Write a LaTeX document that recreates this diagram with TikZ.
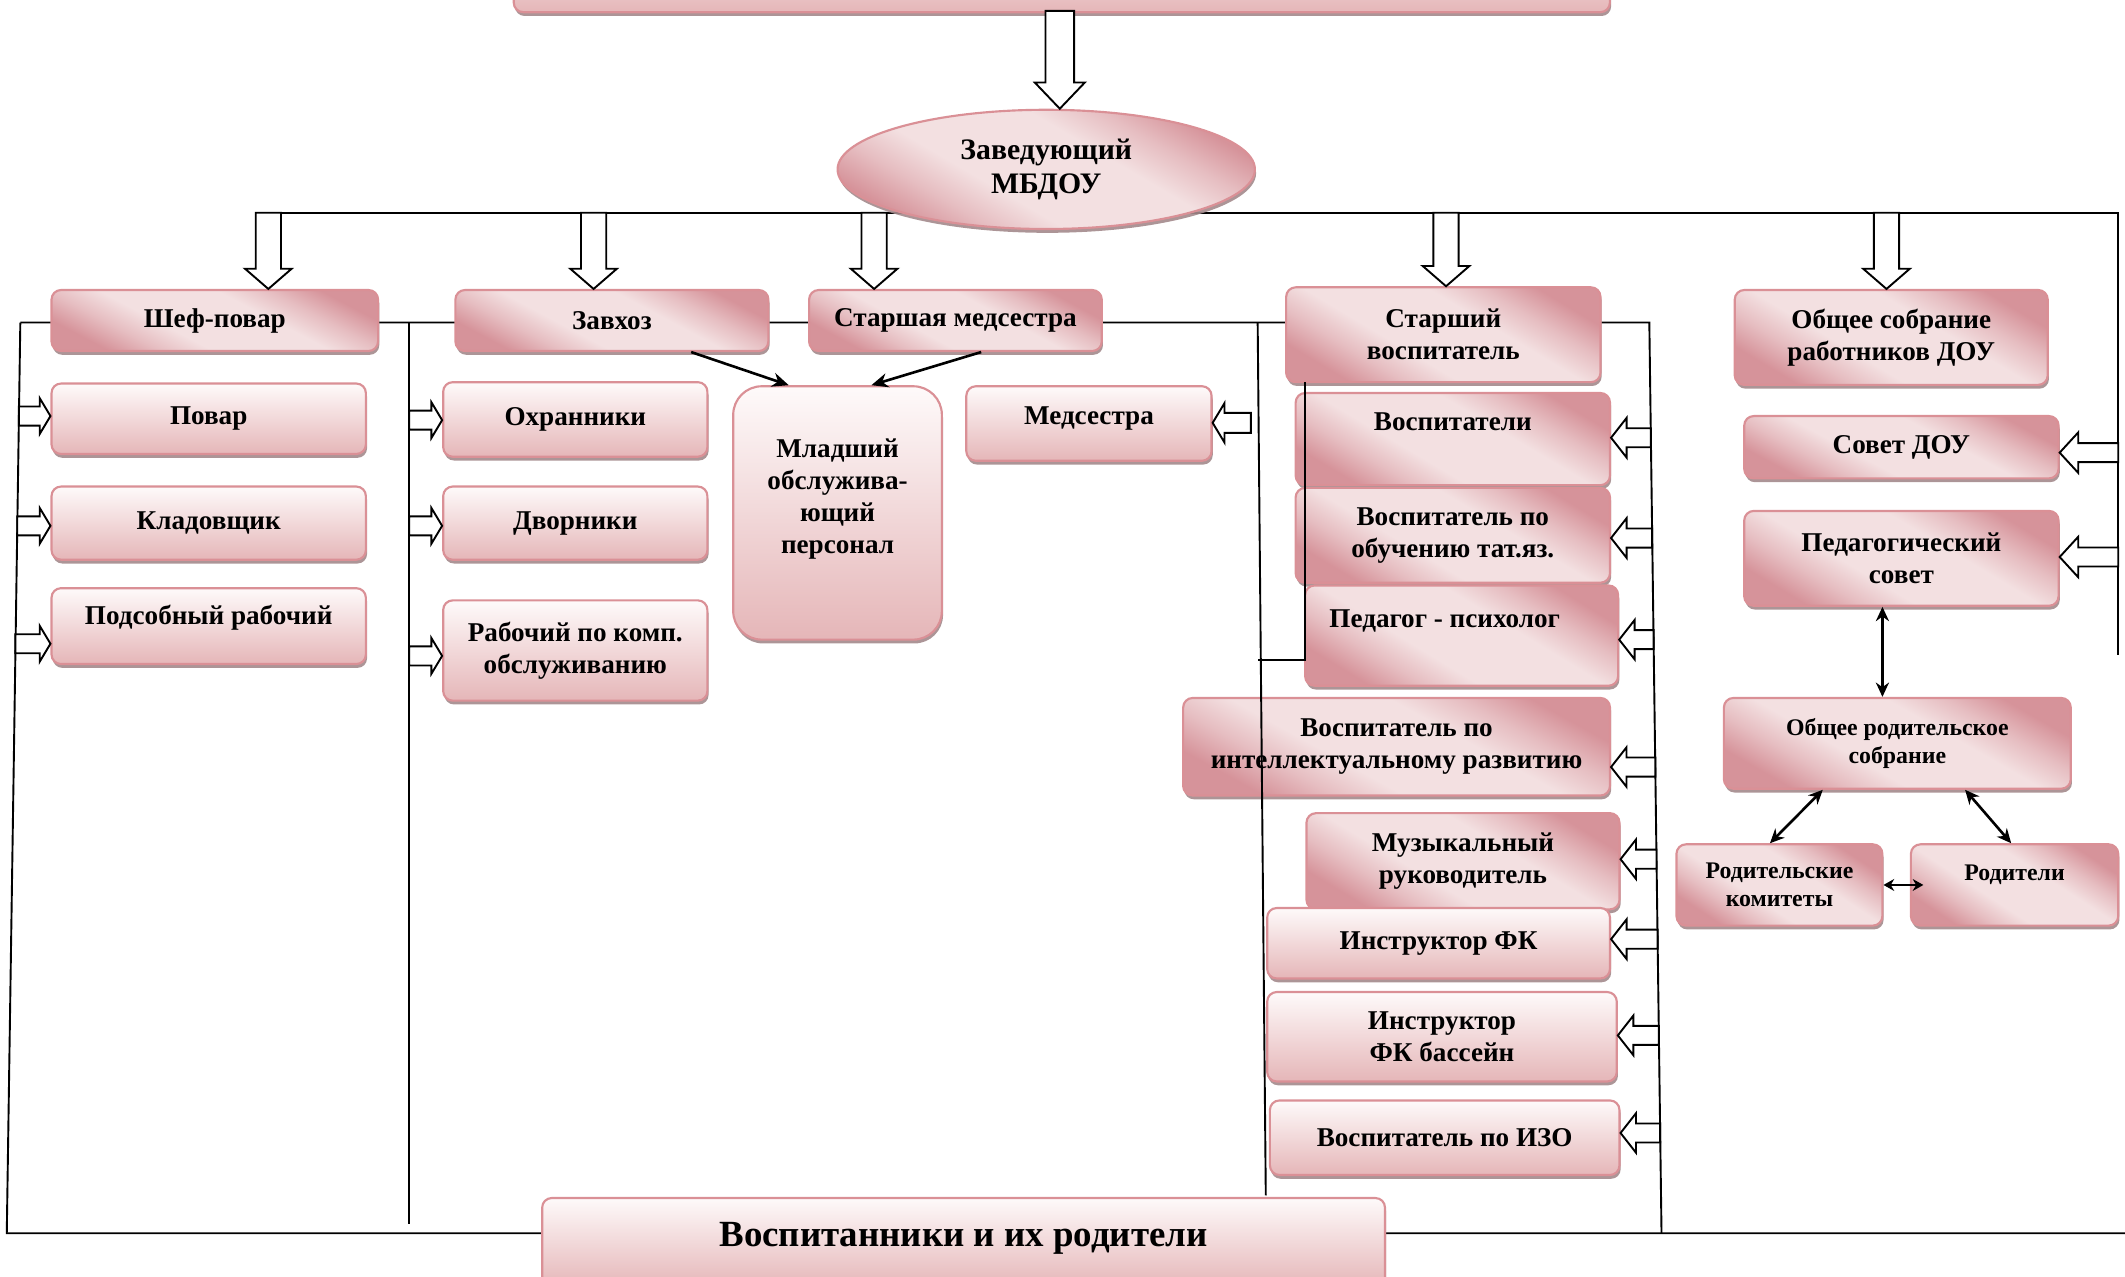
\documentclass[tikz,border=0pt]{standalone}
\usepackage{fontspec}
\setmainfont{Liberation Serif}
\usetikzlibrary{calc,shadows,arrows.meta,shapes.geometric}
\pgfdeclarelayer{bg}
\pgfsetlayers{bg,main}
\definecolor{pkdark}{HTML}{D6939A}
\definecolor{pklight}{HTML}{F3E0E1}
\colorlet{pkmid}{pkdark!45!pklight}
\definecolor{pkborder}{HTML}{DA9096}
\definecolor{vtop}{HTML}{FEFAFA}
\definecolor{vbot}{HTML}{E5B6B8}
\definecolor{shadowc}{HTML}{A38A8C}
\pgfdeclareverticalshading{pinkband}{100bp}{color(0bp)=(pkdark); color(25bp)=(pkdark); color(33bp)=(pkmid); color(41bp)=(pklight); color(59bp)=(pklight); color(67bp)=(pkmid); color(75bp)=(pkdark); color(100bp)=(pkdark)}
\begin{document}
\begin{tikzpicture}[x=0.02cm,y=-0.02cm,
  base/.style={draw=pkborder, line width=0.9pt, rounded corners=4pt, align=center, inner sep=2pt,
    font=\bfseries\fontsize{11.4}{13.4}\selectfont,
    drop shadow={shadow xshift=0.5pt, shadow yshift=-1.6pt, fill=shadowc, opacity=0.9}},
  dbox/.style={base, shade, shading=pinkband, shading angle=-28},
  vbox/.style={base, top color=vtop, bottom color=vbot},
  sz/.style 2 args={minimum width=#1cm, minimum height=#2cm},
  dz/.style 2 args={minimum width=#1cm, minimum height=#2cm, shading angle={-(atan(#2/#1)+45)/2}},
  small/.style={font=\bfseries\fontsize{10}{11.6}\selectfont},
  ln/.style={line width=0.8pt},
  harrow/.style={draw=black, fill=white, line width=0.8pt},
  hdown/.style n args={3}{to path={let \p1=(\tikztostart),\p2=(\tikztotarget) in
    (\x2-#1,\y1) -- (\x2-#1,\y2+#3) -- (\x2-#2,\y2+#3) -- (\x2,\y2) -- (\x2+#2,\y2+#3) -- (\x2+#1,\y2+#3) -- (\x2+#1,\y1) -- cycle}},
  hright/.style n args={3}{to path={let \p1=(\tikztostart),\p2=(\tikztotarget) in
    (\x1,\y2+#1) -- (\x2-#3,\y2+#1) -- (\x2-#3,\y2+#2) -- (\x2,\y2) -- (\x2-#3,\y2-#2) -- (\x2-#3,\y2-#1) -- (\x1,\y2-#1) -- cycle}},
  hleft/.style n args={3}{to path={let \p1=(\tikztostart),\p2=(\tikztotarget) in
    (\x1,\y2+#1) -- (\x2+#3,\y2+#1) -- (\x2+#3,\y2+#2) -- (\x2,\y2) -- (\x2+#3,\y2-#2) -- (\x2+#3,\y2-#1) -- (\x1,\y2-#1) -- cycle}},
  sarrow/.style={line width=1.1pt, -{Stealth[length=7pt,width=6pt]}},
  darrow/.style={line width=1.1pt, {Stealth[length=6pt,width=5.5pt]}-{Stealth[length=6pt,width=5.5pt]}},
  sdarrow/.style={line width=1.1pt, {Stealth[length=4.5pt,width=5pt]}-{Stealth[length=4.5pt,width=5pt]}}
]
\useasboundingbox (0,0) rectangle (1568,942);

% ---------- nodes ----------
\node[vbox, sz={16.18}{1.38}] (top) at (783.5,-25.5) {};
\node[dbox, ellipse, dz={6.16}{1.76}, font=\bfseries\fontsize{12.5}{14.5}\selectfont] (zav) at (772,125) {Заведующий\\МБДОУ};

\node[dbox, dz={4.82}{0.9}] (shef) at (158.5,236.5) {Шеф-повар};
\node[dbox, dz={4.62}{0.9}] (zavhoz) at (451.5,236.5) {Завхоз};
\node[dbox, dz={4.32}{0.9}] (stmed) at (705,236.5) {Старшая медсестра};
\node[dbox, dz={4.64}{1.4}] (stvos) at (1065,247) {Старший\\воспитатель};
\node[dbox, dz={4.62}{1.4}] (obsob) at (1395.5,249) {Общее собрание\\работников ДОУ};

\node[vbox, sz={4.64}{1.04}] (povar) at (154,309) {Повар};
\node[vbox, sz={4.64}{1.08}] (klad) at (154,386) {Кладовщик};
\node[vbox, sz={4.64}{1.12}, text height=8pt, text depth=9pt] (podsob) at (154,462) {Подсобный рабочий};

\node[vbox, sz={3.9}{1.1}] (ohran) at (424.5,309.5) {Охранники};
\node[vbox, sz={3.9}{1.08}] (dvor) at (424.5,386) {Дворники};
\node[vbox, sz={3.9}{1.48}] (rabkomp) at (424.5,480) {Рабочий по комп.\\обслуживанию};

\node[vbox, sz={3.08}{3.74}, rounded corners=12pt] (mlad) at (618,378.5) {Младший\\обслужива-\\ющий\\персонал\\[1pt]\mbox{}};
\node[vbox, sz={3.62}{1.1}, text height=8pt, text depth=7pt] (medses) at (803.5,312.5) {Медсестра};

\node[dbox, dz={4.64}{1.36}, text height=8pt, text depth=15pt] (vosp) at (1072,324) {Воспитатели};
\node[dbox, dz={4.64}{1.4}] (vosptat) at (1072,395) {Воспитатель по\\обучению тат.яз.};
\node[dbox, dz={4.62}{1.48}, text height=8pt, text depth=15pt] (pedpsy) at (1078.5,469) {Педагог - психолог\hspace*{0.5cm}};
\node[dbox, dz={6.3}{1.44}] (vospint) at (1030.5,551) {Воспитатель по\\интеллектуальному развитию};
\node[dbox, dz={4.62}{1.42}] (muz) at (1079.5,635.5) {Музыкальный\\руководитель};
\node[vbox, sz={5.06}{1.04}] (instfk) at (1061.5,696) {Инструктор ФК};
\node[vbox, sz={5.16}{1.32}] (fkbass) at (1064,765) {Инструктор\\ФК бассейн};
\node[vbox, sz={5.16}{1.1}] (izo) at (1066,839.5) {Воспитатель по ИЗО};

\node[dbox, dz={4.64}{0.92}] (sovet) at (1403,330) {Совет ДОУ};
\node[dbox, dz={4.64}{1.4}] (pedsov) at (1403,412) {Педагогический\\совет};
\node[dbox, small, dz={5.12}{1.34}] (obrod) at (1400,548.5) {Общее родительское\\собрание};
\node[dbox, small, dz={3.04}{1.2}] (rodkom) at (1313,653) {Родительские\\комитеты};
\node[dbox, small, dz={3.06}{1.2}, text height=7pt, text depth=11pt] (rod) at (1486.5,653) {Родители};

\node[vbox, sz={12.44}{1.32}, font=\bfseries\fontsize{15.5}{18}\selectfont, text height=11pt, text depth=8pt] (pupils) at (711,917) {Воспитанники и их родители};

% ---------- coordinates ----------
\coordinate (hL) at (189,157);
\coordinate (hR) at (1563,157);
\coordinate (hRb) at (1563,483);
\coordinate (mL) at (15,238);
\coordinate (mR) at (1217,238);
\coordinate (leftB) at (5,910);
\coordinate (rightB) at (1226,910);
\coordinate (botR) at (1568,910);
\coordinate (zT) at (302,238);
\coordinate (zB) at (302,903);
\coordinate (sT) at (928,238);
\coordinate (sB) at (934,882);
\coordinate (iT) at (963,282);
\coordinate (iB) at (963,487);
\coordinate (iL) at (928,487);

% ---------- background lines ----------
\begin{pgfonlayer}{bg}
  \draw[ln, line width=1pt] (hL) -- (hR) -- (hRb);
  \draw[ln] (mL) -- (mR) -- (rightB);
  \draw[ln] (mL) -- (leftB) -- (botR);
  \draw[ln] (zT) -- (zB);
\end{pgfonlayer}

% ---------- foreground lines ----------
\draw[ln] (sT) -- (sB);
\draw[ln] (iT) -- (iB) -- (iL);

% ---------- hollow arrows down ----------
\coordinate (ta) at (782,8);
\draw[harrow, hdown={6pt}{10.5pt}{11pt}] (ta) to (ta |- zav.north);
\coordinate (d1) at (198,157);
\coordinate (d2) at (438,157);
\coordinate (d3) at (645,157);
\coordinate (d4) at (1067,157);
\coordinate (d5) at (1392,157);
\draw[harrow, hdown={5.3pt}{9.8pt}{8.5pt}] (d1) to (d1 |- shef.north);
\draw[harrow, hdown={5.3pt}{9.8pt}{8.5pt}] (d2) to (d2 |- zavhoz.north);
\draw[harrow, hdown={5.3pt}{9.8pt}{8.5pt}] (d3) to (d3 |- stmed.north);
\draw[harrow, hdown={5.3pt}{9.8pt}{8.5pt}] (d4) to (d4 |- stvos.north);
\draw[harrow, hdown={5.3pt}{9.8pt}{8.5pt}] (d5) to (d5 |- obsob.north);

% ---------- hollow arrows right (left columns) ----------
\coordinate (p1) at (13.9,307);
\coordinate (p2) at (12.7,388);
\coordinate (p3) at (11.4,475);
\draw[harrow, hright={4pt}{7.5pt}{4.5pt}] (p1) to (povar.west |- p1);
\draw[harrow, hright={4pt}{7.5pt}{4.5pt}] (p2) to (klad.west |- p2);
\draw[harrow, hright={4pt}{7.5pt}{4.5pt}] (p3) to (podsob.west |- p3);
\coordinate (q1) at (302,310);
\coordinate (q2) at (302,388);
\coordinate (q3) at (302,484);
\draw[harrow, hright={4pt}{7.5pt}{4.5pt}] (q1) to (ohran.west |- q1);
\draw[harrow, hright={4pt}{7.5pt}{4.5pt}] (q2) to (dvor.west |- q2);
\draw[harrow, hright={4pt}{7.5pt}{4.5pt}] (q3) to (rabkomp.west |- q3);

% ---------- hollow arrows left ----------
\coordinate (m1) at (923,312);
\draw[harrow, hleft={4.2pt}{8.3pt}{5pt}] (m1) to (medses.east |- m1);
\coordinate (r1) at (1218.1,323);
\coordinate (r2) at (1219.1,397);
\coordinate (r3) at (1220.2,472);
\coordinate (r4) at (1221.4,566);
\coordinate (r5) at (1222.3,634);
\coordinate (r6) at (1223.1,693);
\coordinate (r7) at (1224,764);
\coordinate (r8) at (1225,836);
\draw[harrow, hleft={4pt}{8.3pt}{6.5pt}] (r1) to (vosp.east |- r1);
\draw[harrow, hleft={4pt}{8.3pt}{6.5pt}] (r2) to (vosptat.east |- r2);
\draw[harrow, hleft={4pt}{8.3pt}{6.5pt}] (r3) to (pedpsy.east |- r3);
\draw[harrow, hleft={4pt}{8.3pt}{6.5pt}] (r4) to (vospint.east |- r4);
\draw[harrow, hleft={4pt}{8.3pt}{6.5pt}] (r5) to (muz.east |- r5);
\draw[harrow, hleft={4pt}{8.3pt}{6.5pt}] (r6) to (instfk.east |- r6);
\draw[harrow, hleft={4pt}{8.3pt}{6.5pt}] (r7) to (fkbass.east |- r7);
\draw[harrow, hleft={4pt}{8.3pt}{6.5pt}] (r8) to (izo.east |- r8);
\coordinate (s1) at (1563,334);
\coordinate (s2) at (1563,411);
\draw[harrow, hleft={4pt}{8.5pt}{7.8pt}] (s1) to (sovet.east |- s1);
\draw[harrow, hleft={4pt}{8.5pt}{7.8pt}] (s2) to (pedsov.east |- s2);

% ---------- solid arrows ----------
\draw[sarrow] ([xshift=1.17cm]zavhoz.south) -- ([xshift=-0.72cm]mlad.north);
\draw[sarrow] ([xshift=0.38cm]stmed.south) -- ([xshift=0.5cm]mlad.north);
\draw[darrow] ([xshift=-0.28cm]pedsov.south) -- ([xshift=-0.28cm]pedsov.south |- obrod.north);
\draw[darrow] ([xshift=-1.1cm]obrod.south) -- ([xshift=-0.14cm]rodkom.north);
\draw[darrow] ([xshift=1.0cm]obrod.south) -- ([xshift=-0.05cm]rod.north);
\draw[sdarrow] (rodkom.east) -- ([xshift=0.2cm]rod.west);
\end{tikzpicture}
\end{document}
